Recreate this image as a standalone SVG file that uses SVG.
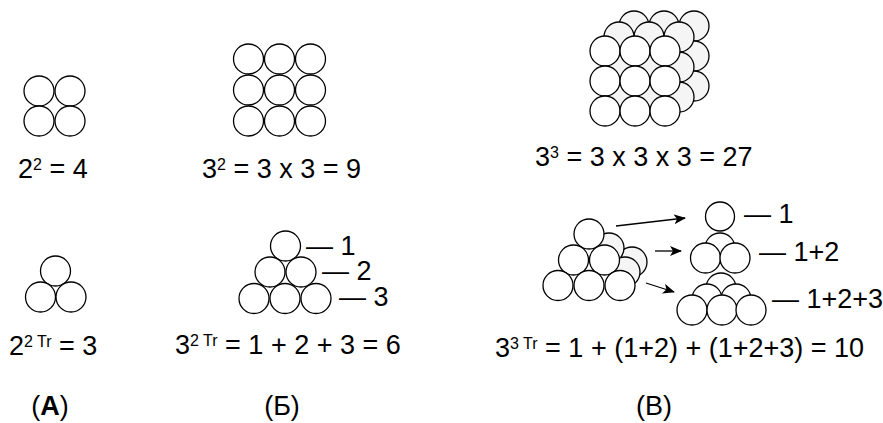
<svg xmlns="http://www.w3.org/2000/svg" width="883" height="423" viewBox="0 0 883 423">
<style>
.c{fill:#fff;stroke:#000;stroke-width:1.3}
.g{fill:#f5f5f5;stroke:#000;stroke-width:1.3}
text{font-family:"Liberation Sans",Arial,Helvetica,sans-serif;font-size:27px;fill:#000}
.s{font-size:16px}
.m{text-anchor:middle}
.conn{stroke:#000;stroke-width:1.3;fill:none;marker-end:url(#ah)}
</style>
<defs>
<marker id="ah" markerWidth="12" markerHeight="10" refX="11" refY="5" orient="auto" markerUnits="userSpaceOnUse"><path d="M0,0 L12,5 L0,10 L3,5 z" fill="#000"/></marker>
</defs>
<rect width="883" height="423" fill="#fff"/>

<!-- Panel A -->
<g id="a-square">
<circle class="c" cx="39" cy="91" r="15"/><circle class="c" cx="70" cy="91" r="15"/>
<circle class="c" cx="39" cy="121" r="15"/><circle class="c" cx="70" cy="121" r="15"/>
</g>
<g id="a-square-label"><text x="18" y="178">2<tspan class="s" dy="-8">2</tspan><tspan dy="8"> = 4</tspan></text></g>
<g id="a-triangle">
<circle class="c" cx="55.5" cy="271" r="15"/>
<circle class="c" cx="40.5" cy="297" r="15"/><circle class="c" cx="71" cy="297" r="15"/>
</g>
<g id="a-triangle-label"><text x="9" y="355">2<tspan class="s" dy="-8">2 Tr</tspan><tspan dy="8"> = 3</tspan></text></g>
<g id="a-caption"><text class="m" x="50" y="415">(<tspan font-weight="bold">A</tspan>)</text></g>

<!-- Panel B -->
<g id="b-square">
<circle class="c" cx="248.5" cy="59" r="15"/><circle class="c" cx="279.5" cy="59" r="15"/><circle class="c" cx="310.5" cy="59" r="15"/>
<circle class="c" cx="248.5" cy="90" r="15"/><circle class="c" cx="279.5" cy="90" r="15"/><circle class="c" cx="310.5" cy="90" r="15"/>
<circle class="c" cx="248.5" cy="121" r="15"/><circle class="c" cx="279.5" cy="121" r="15"/><circle class="c" cx="310.5" cy="121" r="15"/>
</g>
<g id="b-square-label"><text x="202" y="178">3<tspan class="s" dy="-8">2</tspan><tspan dy="8"> = 3 x 3 = 9</tspan></text></g>
<g id="b-triangle">
<circle class="c" cx="285.5" cy="246" r="15"/>
<circle class="c" cx="270" cy="272" r="15"/><circle class="c" cx="301" cy="272" r="15"/>
<circle class="c" cx="254" cy="298.5" r="15"/><circle class="c" cx="285" cy="298.5" r="15"/><circle class="c" cx="316" cy="298.5" r="15"/>
</g>
<g id="b-row-labels">
<text x="306" y="255">— 1</text>
<text x="322" y="280">— 2</text>
<text x="339" y="306">— 3</text>
</g>
<g id="b-triangle-label"><text x="175" y="354">3<tspan class="s" dy="-8">2 Tr</tspan><tspan dy="8"> = 1 + 2 + 3 = 6</tspan></text></g>
<g id="b-caption"><text class="m" x="282" y="415">(Б)</text></g>

<!-- Panel C -->
<g id="c-cube">
<circle class="g" cx="634" cy="26" r="15"/><circle class="g" cx="664" cy="26" r="15"/><circle class="g" cx="694" cy="26" r="15"/>
<circle class="g" cx="634" cy="56" r="15"/><circle class="g" cx="664" cy="56" r="15"/><circle class="g" cx="694" cy="56" r="15"/>
<circle class="g" cx="634" cy="86" r="15"/><circle class="g" cx="664" cy="86" r="15"/><circle class="g" cx="694" cy="86" r="15"/>
<circle class="g" cx="619" cy="37" r="15"/><circle class="g" cx="649" cy="37" r="15"/><circle class="g" cx="679" cy="37" r="15"/>
<circle class="g" cx="619" cy="67" r="15"/><circle class="g" cx="649" cy="67" r="15"/><circle class="g" cx="679" cy="67" r="15"/>
<circle class="g" cx="619" cy="97" r="15"/><circle class="g" cx="649" cy="97" r="15"/><circle class="g" cx="679" cy="97" r="15"/>
<circle class="c" cx="605" cy="51" r="15"/><circle class="c" cx="635" cy="51" r="15"/><circle class="c" cx="665" cy="51" r="15"/>
<circle class="c" cx="605" cy="81" r="15"/><circle class="c" cx="635" cy="81" r="15"/><circle class="c" cx="665" cy="81" r="15"/>
<circle class="c" cx="605" cy="111" r="15"/><circle class="c" cx="635" cy="111" r="15"/><circle class="c" cx="665" cy="111" r="15"/>
</g>
<g id="c-cube-label"><text x="535" y="166">3<tspan class="s" dy="-8">3</tspan><tspan dy="8"> = 3 x 3 x 3 = 27</tspan></text></g>
<g id="c-pyramid">
<circle class="g" cx="632" cy="262" r="15"/>
<circle class="g" cx="609" cy="248" r="15"/>
<circle class="g" cx="625" cy="272" r="15"/>
<circle class="c" cx="589" cy="234" r="15"/>
<circle class="c" cx="573.5" cy="260" r="15"/><circle class="c" cx="604.5" cy="260" r="15"/>
<circle class="c" cx="558" cy="285.5" r="15"/><circle class="c" cx="589" cy="285.5" r="15"/><circle class="c" cx="620" cy="285.5" r="15"/>
</g>
<g id="c-layer1">
<circle class="c" cx="720" cy="216.5" r="14.5"/>
</g>
<g id="c-layer1-label"><text x="744" y="223">— 1</text></g>
<g id="c-layer2">
<circle class="c" cx="720" cy="248" r="15"/>
<circle class="c" cx="705.5" cy="258" r="15"/><circle class="c" cx="735" cy="258" r="15"/>
</g>
<g id="c-layer2-label"><text x="759" y="261">— 1+2</text></g>
<g id="c-layer3">
<circle class="c" cx="721" cy="288" r="15"/>
<circle class="c" cx="707" cy="299" r="15"/><circle class="c" cx="736" cy="299" r="15"/>
<circle class="c" cx="692" cy="310" r="15"/><circle class="c" cx="722" cy="310" r="15"/><circle class="c" cx="751" cy="310" r="15"/>
</g>
<g id="c-layer3-label"><text x="772" y="308">— 1+2+3</text></g>
<g id="c-pyramid-label"><text x="495" y="357">3<tspan class="s" dy="-8">3 Tr</tspan><tspan dy="8"> = 1 + (1+2) + (1+2+3) = 10</tspan></text></g>
<g id="c-caption"><text class="m" x="654" y="415">(В)</text></g>

<g id="connectors">
<path class="conn" d="M616,226 L685,218"/>
<path class="conn" d="M655,251 L681,251"/>
<path class="conn" d="M646,283 L674,292"/>
</g>
</svg>
